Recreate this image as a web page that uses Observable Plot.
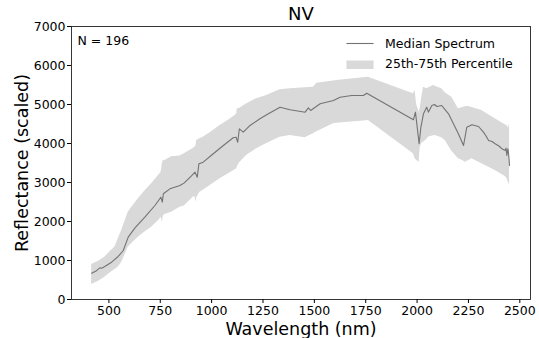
<!DOCTYPE html>
<html>
<head>
<meta charset="utf-8">
<script src="https://cdn.jsdelivr.net/npm/d3@7"></script>
<script src="https://cdn.jsdelivr.net/npm/@observablehq/plot@0.6"></script>
<style>
  html, body { margin: 0; padding: 0; background: white; }
  #chart { position: relative; width: 539px; height: 338px; }
</style>
</head>
<body>
<div id="chart"></div>
<script>
const title = "NV";
const sampleLabel = "N = 196";
const xLabel = "Wavelength (nm)";
const yLabel = "Reflectance (scaled)";
const legendLabels = ["Median Spectrum", "25th-75th Percentile"];
const xTicks = [500, 750, 1000, 1250, 1500, 1750, 2000, 2250, 2500];
const yTicks = [0, 1000, 2000, 3000, 4000, 5000, 6000, 7000];

const medianWavelength = [416, 440, 456, 465, 480, 513, 545, 570, 594, 627, 675, 724, 753, 760, 765, 797, 846, 867, 903, 919, 930, 938, 959, 1008, 1057, 1105, 1119, 1127, 1135, 1154, 1187, 1235, 1276, 1333, 1382, 1455, 1471, 1482, 1528, 1593, 1625, 1682, 1739, 1755, 1982, 1992, 2010, 2018, 2031, 2047, 2055, 2072, 2085, 2096, 2120, 2133, 2153, 2177, 2201, 2226, 2242, 2267, 2299, 2323, 2335, 2348, 2365, 2380, 2400, 2413, 2429, 2433, 2437, 2442, 2446, 2450];
const medianReflectance = [674, 740, 812, 800, 846, 957, 1103, 1256, 1598, 1838, 2110, 2410, 2623, 2495, 2710, 2838, 2923, 2990, 3179, 3264, 3136, 3479, 3521, 3736, 3949, 4146, 4162, 4033, 4377, 4290, 4462, 4633, 4761, 4931, 4864, 4803, 4915, 4846, 5018, 5103, 5187, 5231, 5231, 5290, 4607, 4803, 3992, 4400, 4761, 4931, 4803, 4974, 5000, 4949, 4974, 4890, 4761, 4505, 4249, 3949, 4418, 4479, 4436, 4290, 4200, 4077, 4050, 3992, 3930, 3864, 3821, 3880, 3692, 3864, 3700, 3436];

const bandWavelength = [416, 450, 480, 510, 529, 545, 562, 594, 620, 643, 675, 708, 748, 753, 757, 760, 765, 773, 805, 846, 867, 910, 919, 924, 927, 943, 959, 1000, 1041, 1080, 1114, 1122, 1125, 1135, 1171, 1219, 1268, 1333, 1382, 1455, 1495, 1512, 1593, 1609, 1739, 1763, 1982, 1990, 1998, 2010, 2015, 2022, 2031, 2047, 2055, 2080, 2088, 2120, 2137, 2169, 2201, 2226, 2234, 2250, 2267, 2315, 2380, 2429, 2437, 2445, 2450];
const bandLower = [385, 470, 572, 700, 770, 828, 950, 1341, 1480, 1597, 1730, 1854, 2060, 2110, 2050, 1982, 2150, 2180, 2239, 2367, 2400, 2623, 2640, 2495, 2600, 2751, 2800, 2950, 3094, 3220, 3330, 3350, 3400, 3500, 3700, 3863, 4000, 4162, 4205, 4146, 4249, 4300, 4505, 4520, 4580, 4590, 3736, 3615, 3564, 3521, 3900, 4000, 4035, 4100, 4162, 4200, 4205, 4150, 4077, 3800, 3607, 3550, 3521, 3560, 3607, 3479, 3308, 3154, 3100, 3000, 2923];
const bandUpper = [897, 980, 1085, 1250, 1341, 1550, 1769, 2239, 2420, 2582, 2780, 2966, 3222, 3250, 3350, 3480, 3564, 3564, 3660, 3680, 3740, 3870, 3905, 3950, 4077, 4120, 4162, 4300, 4462, 4590, 4718, 4760, 4890, 4900, 5018, 5150, 5231, 5377, 5402, 5430, 5444, 5547, 5600, 5615, 5684, 5700, 5274, 5359, 5000, 4800, 4900, 5150, 5444, 5402, 5420, 5487, 5470, 5402, 5300, 5187, 4890, 4931, 4940, 4949, 4920, 4846, 4633, 4480, 4462, 4400, 4505];

const median = medianWavelength.map((w, i) => ({w, v: medianReflectance[i]}));
const band = bandWavelength.map((w, i) => ({w, lo: bandLower[i], hi: bandUpper[i]}));

const fontFamily = "DejaVu Sans, sans-serif";
const bandFill = "#d9d9d9";
const lineStroke = "#737373";

const chart = Plot.plot({
  width: 539,
  height: 338,
  marginTop: 26,
  marginBottom: 39,
  marginLeft: 71,
  marginRight: 9,
  style: {fontFamily, fontSize: "12.5px", color: "black", background: "white", overflow: "visible"},
  x: {domain: [318, 2552]},
  y: {domain: [0, 7000]},
  marks: [
    Plot.areaY(band, {x: "w", y1: "lo", y2: "hi", fill: bandFill, curve: "linear"}),
    Plot.line(median, {x: "w", y: "v", stroke: lineStroke, strokeWidth: 1.1}),
    Plot.frame({stroke: "#222", strokeWidth: 0.9}),
    Plot.axisX({ticks: xTicks, tickSize: 4, tickPadding: 3, label: null, tickFormat: d3.format("d"), fontSize: 12.5}),
    Plot.axisY({ticks: yTicks, tickSize: 4, tickPadding: 2, label: null, tickFormat: d3.format("d"), fontSize: 12.5}),
    Plot.text([title], {text: d => d, frameAnchor: "top", dy: -12.5, lineAnchor: "middle", fontSize: 18}),
    Plot.text([xLabel], {text: d => d, frameAnchor: "bottom", dy: 29.5, lineAnchor: "middle", fontSize: 17.5}),
    Plot.text([yLabel], {text: d => d, frameAnchor: "left", dx: -49, rotate: -90, textAnchor: "middle", lineAnchor: "middle", fontSize: 17.5}),
    Plot.text([sampleLabel], {text: d => d, frameAnchor: "top-left", dx: 6, dy: 14, textAnchor: "start", lineAnchor: "middle", fontSize: 12.5})
  ]
});

document.getElementById("chart").appendChild(chart);

// Legend (upper right, inside the frame)
const svg = d3.select(chart);
const lg = svg.append("g")
  .attr("font-family", fontFamily)
  .attr("font-size", 12.5)
  .attr("text-anchor", "start");
lg.append("line")
  .attr("x1", 346.5).attr("x2", 373.5).attr("y1", 43.5).attr("y2", 43.5)
  .attr("stroke", lineStroke).attr("stroke-width", 1.1);
lg.append("text").attr("x", 385).attr("y", 43.5).attr("dy", "0.35em")
  .attr("fill", "black").text(legendLabels[0]);
lg.append("rect")
  .attr("x", 346.5).attr("y", 60.5).attr("width", 27).attr("height", 8.5)
  .attr("fill", bandFill);
lg.append("text").attr("x", 385).attr("y", 64).attr("dy", "0.35em")
  .attr("fill", "black").text(legendLabels[1]);
</script>
</body>
</html>
